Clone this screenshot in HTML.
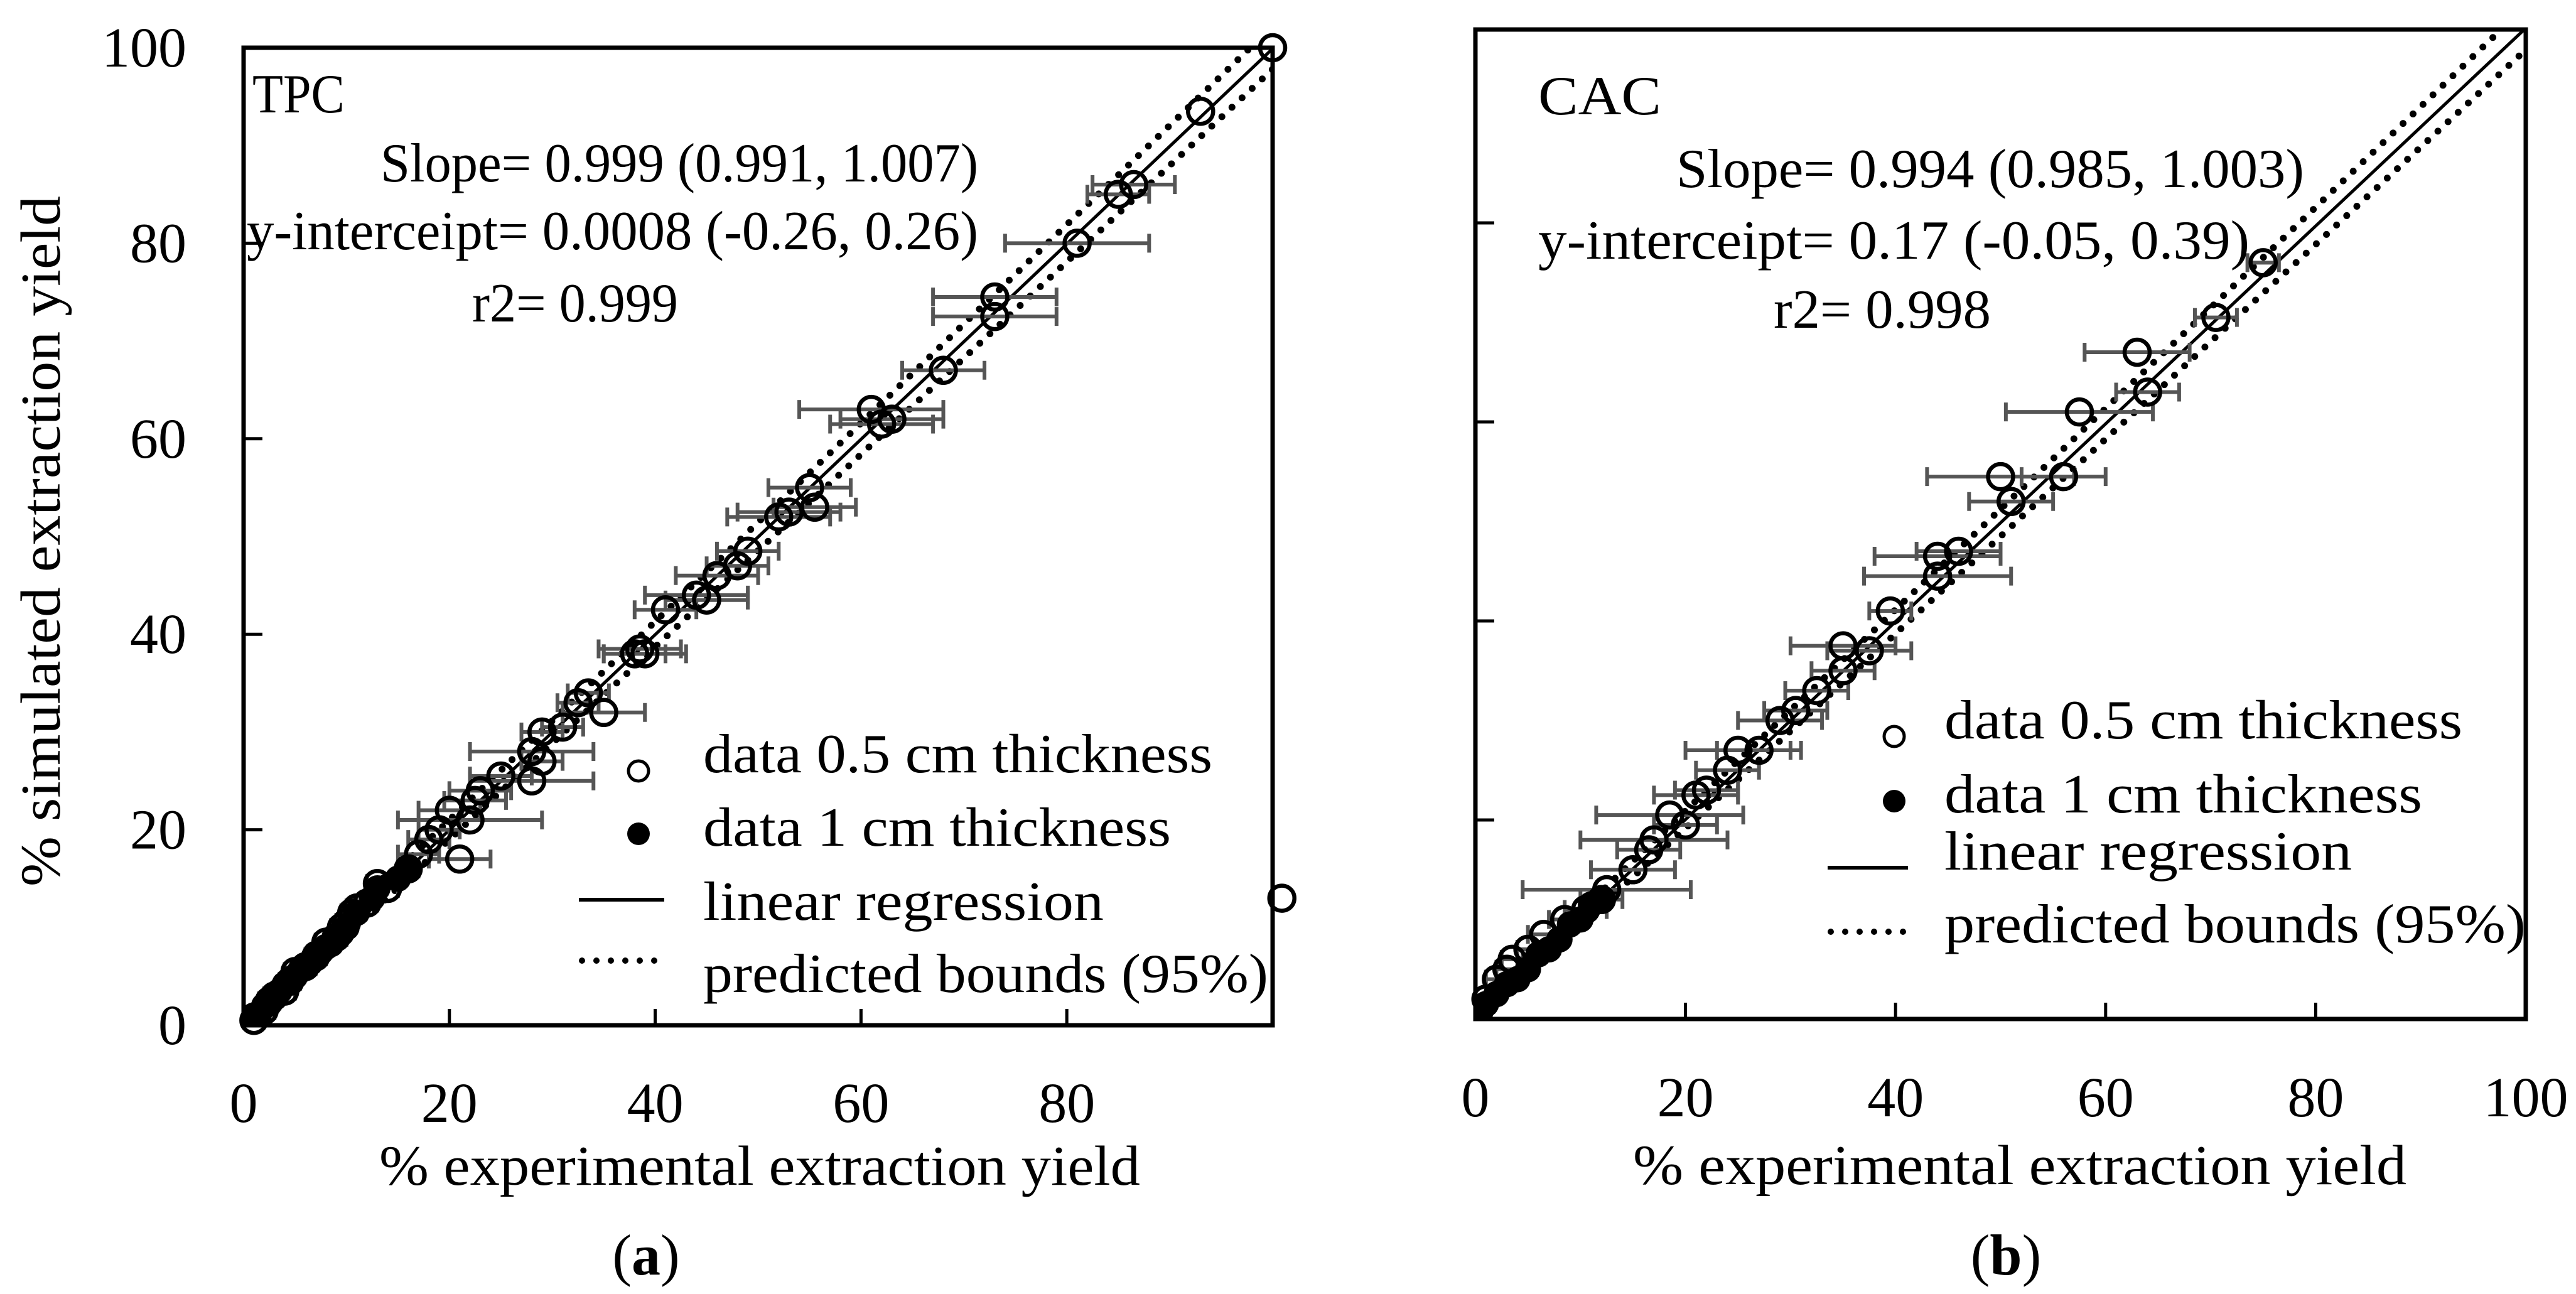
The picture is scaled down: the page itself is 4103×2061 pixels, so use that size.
<!DOCTYPE html>
<html><head><meta charset="utf-8">
<style>
html,body{margin:0;padding:0;background:#fff;}
svg{display:block;}
text{font-family:"Liberation Serif",serif;fill:#000;}
</style></head>
<body>
<svg id="fig" width="4103" height="2061" viewBox="0 0 4103 2061" xmlns="http://www.w3.org/2000/svg">
<rect x="0" y="0" width="4103" height="2061" fill="#fff"/>
<defs>
<clipPath id="clipA"><rect x="388" y="76" width="1639" height="1557"/></clipPath>
<clipPath id="clipB"><rect x="2350" y="47" width="1673" height="1576"/></clipPath>
</defs>
<g id="chartA"></g>
<g id="chartB"></g>
</svg>
<script>
// ---- data: chart (a) TPC ----
const tpcOpenX = [100,93,85,86.5,81,73,73,68,61,62,63,55,53,52,55.5,49,48,46,44,45,41,38.5,38,39,35,33.5,32.5,31,29,28,29,28,25,23,22.5,22,20,21,19,18,17,16,14,13,11,10,12,10.5,9.5,9,8,7,6,5,4.5,4,3,2.5,2,1,100.9];
const tpcOpenY = [100,93.5,85,86,80,72.5,74.5,67,63,61.5,62,55,52.5,52,53,48.5,47,46,44,43.5,42.5,38.5,38,38,32,34,33,30.5,30,28,27,25,25.5,24,23,21,22,17,20,19,17.5,16,14,14.5,12,10.5,12.5,11.5,10,9,8.5,7,6,5.5,4.5,3.5,3,2.5,1.5,0.5,13];
const tpcOpenErr = [0,0,3,4,7,6,6,4,7,5,5,4,5,5,4,3,3,4,5,4,3,4,3,4,4,2,2,2,2,6,2,6,3,3,3,7,3,3,2,2,2,1,1,1,1,1,1,1,1,1,1,1,1,1,1,1,1,1,1,1,0];
const tpcFilledX = [0,0.5,1,1.5,2,2.5,3,3.5,4,4.5,5,5.5,6,6.5,7,7.5,8,8.5,9,9.5,10,11,12.5,13,15,16];
const tpcFilledY = [0,0.3,1,1.2,2,2.2,2.8,3.5,4.2,4.4,5,5.6,6,6.4,7.3,7.5,8,8.3,9,9.4,10,11.5,13,14,15,16];
const tpcFit = [0.999, 0.0008];
const tpcBoundX = [0,100];
const tpcUpper = [0.7,102.2];
const tpcLower = [-0.7,97.8];
// ---- data: chart (b) CAC ----
const cacOpenX = [75,70.5,63,64,57.5,50,56,51,46,44,44,39.5,37.5,35,35,32.5,30.5,29,27,25,24,22,21,18.5,20,17,16.5,15,12.5,12,10.5,8.5,6.5,5,3.5,3,2,1];
const cacOpenY = [76,70.5,67,63,61,54.5,54.5,52,47,46.5,44.5,41,37,37.5,35,33,31,30,27,27,25,23,22.5,20.5,19.5,18,17,15,13,12,11,10,8.5,7,6,5,4,2];
const cacOpenErr = [1.5,2,5,3,7,7,4,4,4,6,7,2,4,5,3,3,3,4,4,5,3,3,4,7,3,7,3,4,8,2,2,1.5,1.5,1,1,1,1,1];
const cacFilledX = [0,0.5,1,2,3,4,5,6,7,8,9,10,11,12];
const cacFilledY = [0.5,0.8,1.5,2.5,3.5,4,5,6.5,7,8,9.5,10,11.5,12];
const cacFit = [0.994, 0.17];
const cacBoundX = [0,100];
const cacUpper = [0.7,101.8];
const cacLower = [-0.4,97.4];
// ---- ticks ----
const xTickValsA = [0,20,40,60,80];
const xTickValsB = [0,20,40,60,80,100];
const yTickValsA = [0,20,40,60,80,100];
const yTickMarksB = [20,40,60,80];

const NS = "http://www.w3.org/2000/svg";
function mk(parent, tag, attrs, txt){
  const e = document.createElementNS(NS, tag);
  for (const k in attrs) e.setAttribute(k, attrs[k]);
  if (txt !== undefined) e.textContent = txt;
  parent.appendChild(e);
  return e;
}

function drawChart(g, c){
  const sx = v => c.x0 + (v - 0) * (c.x1 - c.x0) / 100;
  const sy = v => c.y0 - v * (c.y0 - c.y1) / 100;
  const plot = mk(g, 'g', {'clip-path': 'url(#' + c.clip + ')'});
  
  
  [c.upper, c.lower].forEach((arr, i) => {
    const l = mk(plot, 'line', {x1: sx(c.bx[0]), y1: sy(arr[0]), x2: sx(c.bx[1]), y2: sy(arr[1]), stroke: '#000', 'stroke-width': 11, 'stroke-linecap': 'round', 'stroke-dasharray': '0 22'});
    
    
  });
  const rl = mk(plot, 'line', {x1: sx(0), y1: sy(c.fit[1]), x2: sx(100), y2: sy(c.fit[0] * 100 + c.fit[1]), stroke: '#000', 'stroke-width': 5});
  
  
  for (let i = 0; i < c.ox.length; i++){
    const e = c.oe[i]; if (!e) continue;
    const y = sy(c.oy[i]);
    const eb = mk(plot, 'path', {d: `M${sx(c.ox[i]-e)},${y}H${sx(c.ox[i]+e)}M${sx(c.ox[i]-e)},${y-15}v30M${sx(c.ox[i]+e)},${y-15}v30`, stroke: '#555', 'stroke-width': 6, fill: 'none'});
    
    
  }
  for (let i = 0; i < c.fx.length; i++){
    const p = mk(plot, 'circle', {cx: sx(c.fx[i]), cy: sy(c.fy[i]), r: 21, fill: '#000'});
    
    
  }
  for (let i = 0; i < c.ox.length; i++){
    const p = mk(g, 'circle', {cx: sx(c.ox[i]), cy: sy(c.oy[i]), r: 20, fill: 'none', stroke: '#000', 'stroke-width': 6.5});
    
    
  }
  const fr = mk(g, 'rect', {x: c.x0, y: c.fy1, width: c.x1 - c.x0, height: c.y0 - c.fy1, fill: 'none', stroke: '#000', 'stroke-width': 7});
  
  
  c.xt.forEach(v => {
    if (v > 0 && v < 100){
      const t = mk(g, 'line', {x1: sx(v), y1: c.y0, x2: sx(v), y2: c.y0 - 26, stroke: '#000', 'stroke-width': 5});
      
      
    }
    const lb = mk(g, 'text', {x: sx(v), y: c.xlabY, 'font-size': 90, 'text-anchor': 'middle'}, String(v));
    
    
  });
  c.yt.forEach(v => {
    if (v > 0 && v < 100){
      const t = mk(g, 'line', {x1: c.x0, y1: sy(v), x2: c.x0 + 30, y2: sy(v), stroke: '#000', 'stroke-width': 5});
      
      
    }
    if (c.ylabels){
      const lb = mk(g, 'text', {x: 297, y: sy(v) + 30, 'font-size': 90, 'text-anchor': 'end'}, String(v));
      
      
    }
  });
  c.texts.forEach(t => {
    const el = mk(g, 'text', {x: t[1], y: t[2], 'font-size': 88, textLength: t[3], lengthAdjust: 'spacingAndGlyphs'}, t[0]);
    
    
  });
  const L = c.leg;
  const lo = mk(g, 'circle', {cx: L.cx, cy: L.oy, r: 16, fill: 'none', stroke: '#000', 'stroke-width': 5});
  
  
  const lf = mk(g, 'circle', {cx: L.cx, cy: L.fy, r: 18, fill: '#000'});
  
  
  const ll = mk(g, 'line', {x1: L.lx0, y1: L.ly, x2: L.lx1, y2: L.ly, stroke: '#000', 'stroke-width': 6});
  
  
  const ld = mk(g, 'line', {x1: L.lx0 + 5, y1: L.dy, x2: L.lx1, y2: L.dy, stroke: '#000', 'stroke-width': 10, 'stroke-linecap': 'round', 'stroke-dasharray': '0 23'});
  
  
  const xt = mk(g, 'text', {x: c.xtitle[0], y: c.xtitle[1], 'font-size': 90, textLength: c.xtitle[2], lengthAdjust: 'spacingAndGlyphs'}, '% experimental extraction yield');
  
  
  if (c.ytitle){
    const yt = mk(g, 'text', {x: 0, y: 0, 'font-size': 90, 'text-anchor': 'middle', textLength: 1100, lengthAdjust: 'spacingAndGlyphs', transform: 'translate(95,862) rotate(-90)'}, '% simulated extraction yield');
    
    
  }
  const pl = mk(g, 'text', {x: c.panel[0], y: 2030, 'font-size': 92, 'text-anchor': 'middle'});
  
  
  mk(pl, 'tspan', {}, '(');
  mk(pl, 'tspan', {'font-weight': 'bold'}, c.panel[1]);
  mk(pl, 'tspan', {}, ')');
}

drawChart(document.getElementById('chartA'), {
  x0: 388, x1: 2027, y0: 1633, y1: 76, fy1: 76, clip: 'clipA',
  ox: tpcOpenX, oy: tpcOpenY, oe: tpcOpenErr, fx: tpcFilledX, fy: tpcFilledY,
  fit: tpcFit, bx: tpcBoundX, upper: tpcUpper, lower: tpcLower,
  xt: xTickValsA, yt: yTickValsA, ylabels: true, ytitle: true, xlabY: 1787,
  texts: [
    ['TPC', 402, 179, 147, 'series-label-tpc'],
    ['Slope= 0.999 (0.991, 1.007)', 606, 289, 952, 'slope-annotation'],
    ['y-interceipt= 0.0008 (-0.26, 0.26)', 393, 397, 1165, 'intercept-annotation'],
    ['r2= 0.999', 752, 512, 328, 'r2-annotation'],
    ['data 0.5 cm thickness', 1120, 1230, 811, 'legend-label-0-5cm'],
    ['data 1 cm thickness', 1120, 1347, 745, 'legend-label-1cm'],
    ['linear regression', 1120, 1465, 638, 'legend-label-regression'],
    ['predicted bounds (95%)', 1120, 1580, 900, 'legend-label-bounds']
  ],
  leg: {cx: 1017, oy: 1228, fy: 1328, lx0: 922, lx1: 1058, ly: 1433, dy: 1530},
  xtitle: [604, 1887, 1212], panel: [1029, 'a']
});

drawChart(document.getElementById('chartB'), {
  x0: 2350, x1: 4023, y0: 1623, y1: 38, fy1: 47, clip: 'clipB',
  ox: cacOpenX, oy: cacOpenY, oe: cacOpenErr, fx: cacFilledX, fy: cacFilledY,
  fit: cacFit, bx: cacBoundX, upper: cacUpper, lower: cacLower,
  xt: xTickValsB, yt: yTickMarksB, ylabels: false, ytitle: false, xlabY: 1778,
  texts: [
    ['CAC', 2450, 182, 196, 'series-label-cac'],
    ['Slope= 0.994 (0.985, 1.003)', 2670, 298, 1000, 'slope-annotation'],
    ['y-interceipt= 0.17 (-0.05, 0.39)', 2450, 412, 1133, 'intercept-annotation'],
    ['r2= 0.998', 2825, 522, 346, 'r2-annotation'],
    ['data 0.5 cm thickness', 3097, 1176, 825, 'legend-label-0-5cm'],
    ['data 1 cm thickness', 3097, 1294, 761, 'legend-label-1cm'],
    ['linear regression', 3097, 1385, 649, 'legend-label-regression'],
    ['predicted bounds (95%)', 3097, 1501, 926, 'legend-label-bounds']
  ],
  leg: {cx: 3017, oy: 1173, fy: 1276, lx0: 2911, lx1: 3039, ly: 1382, dy: 1484},
  xtitle: [2601, 1886, 1232], panel: [3195, 'b']
});
</script>
</body></html>
